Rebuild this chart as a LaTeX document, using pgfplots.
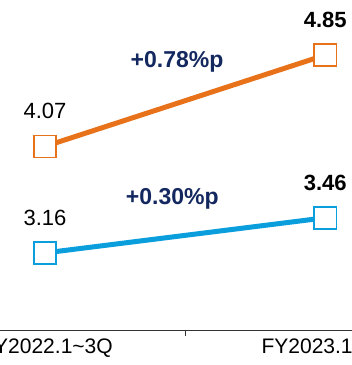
\documentclass[border=0pt]{standalone}
\usepackage{fontspec}
\setmainfont{Liberation Sans}
\usepackage{pgfplots}
\pgfplotsset{compat=1.18}
\definecolor{lineorange}{RGB}{232,114,26}
\definecolor{lineblue}{RGB}{10,158,220}
\definecolor{deltanavy}{RGB}{20,40,96}
\begin{document}
\begin{tikzpicture}
\begin{axis}[
  scale only axis, width=560pt, height=351pt,
  xmin=-0.5, xmax=1.5, ymin=2.5, ymax=5.5,
  axis x line=bottom, axis y line=none,
  axis line style={-, draw=black!80, line width=0.9pt},
  xtick={0,1},
  xticklabels={FY2022.1\textasciitilde3Q, FY2023.1\textasciitilde3Q},
  major tick length=0pt,
  extra x ticks={0.5}, extra x tick labels={},
  extra x tick style={major tick length=6pt, tick align=outside,
    tick style={draw=black!80, line width=0.9pt}},
  ytick=\empty,
  ticklabel style={font=\fontsize{21}{25}\selectfont, text=black},
  xticklabel style={anchor=base, yshift=-23pt, xshift=2pt},
  clip=false,
]
% upper series
\addplot[lineorange, line width=5pt, mark=square*,
  mark size=11pt, mark options={fill=white, line width=1.5pt, solid}]
  coordinates {(0,4.07) (1,4.85)};
% lower series
\addplot[lineblue, line width=5pt, mark=square*,
  mark size=11pt, mark options={fill=white, line width=1.5pt, solid}]
  coordinates {(0,3.16) (1,3.46)};

% value labels
\tikzset{vlabel/.style={anchor=base, yshift=27.5pt, font=\fontsize{22}{26}\selectfont}}
\node[vlabel] at (axis cs:0,4.07) {4.07};
\node[vlabel, font=\fontsize{22}{26}\selectfont\bfseries] at (axis cs:1,4.85) {4.85};
\node[vlabel] at (axis cs:0,3.16) {3.16};
\node[vlabel, font=\fontsize{22}{26}\selectfont\bfseries] at (axis cs:1,3.46) {3.46};

% change labels
\tikzset{dlabel/.style={anchor=base, text=deltanavy, font=\fontsize{23}{27}\selectfont\bfseries}}
\node[dlabel] at (axis cs:0.471,4.747) {+0.78\%p};
\node[dlabel] at (axis cs:0.454,3.571) {+0.30\%p};

\coordinate (bbSW) at (axis cs:-0.1607,2.2028);
\coordinate (bbNE) at (axis cs:1.0929,5.3201);
\end{axis}
\pgfresetboundingbox
\path[use as bounding box] (bbSW) rectangle (bbNE);
\end{tikzpicture}
\end{document}
